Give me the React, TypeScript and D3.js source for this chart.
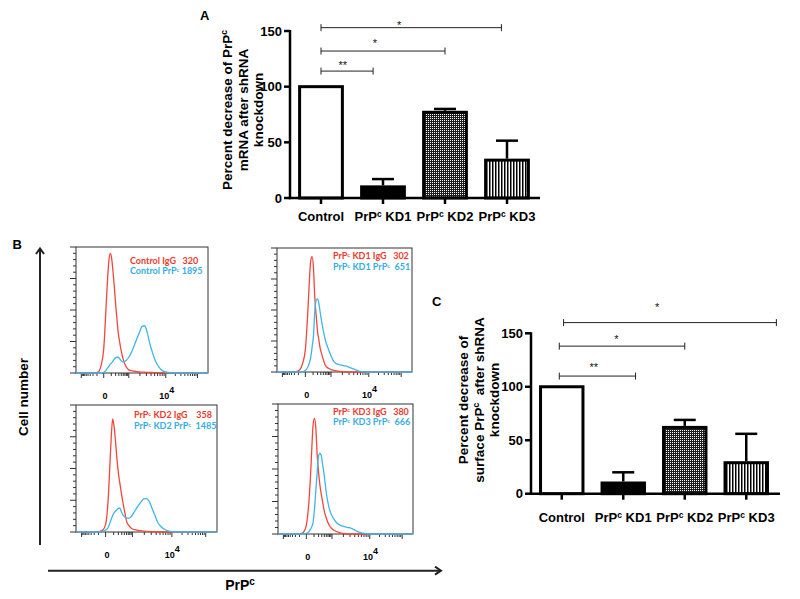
import React from "react";
import * as d3 from "d3";

const FONT = "'Liberation Sans', Arial, Helvetica, sans-serif";
const HFONT = "Lato, 'Open Sans', sans-serif";

// ---------- Bar chart data ----------
const barCategories = ["Control", "PrP^c KD1", "PrP^c KD2", "PrP^c KD3"];
const mrnaValues = [100, 10, 77, 34];
const mrnaErrors = [0, 7, 3, 17.5];
const surfaceValues = [100, 10, 62, 29];
const surfaceErrors = [0, 10, 7, 27];
const barYTicks = [0, 50, 100, 150];
const barFills = ["white", "black", "url(#dots)", "url(#vstripes)"];

// significance brackets: start / end in category units (0 = Control centre), level, label
const mrnaSigStart = [0, 0, 0];
const mrnaSigEnd = [0.84, 2.0, 2.91];
const mrnaSigLevel = [114, 132, 153];
const mrnaSigLabel = ["**", "*", "*"];
const mrnaSigLabelPos = [0.35, 0.87, 1.26];
const mrnaSigLabelLevel = [121, 141, 157.5];

const surfSigStart = [-0.04, -0.04, 0.03];
const surfSigEnd = [1.2, 2.0, 3.49];
const surfSigLevel = [110, 138, 160];
const surfSigLabel = ["**", "*", "*"];
const surfSigLabelPos = [0.52, 0.89, 1.55];
const surfSigLabelLevel = [120, 146.7, 176];

// ---------- Flow histogram data (channel 0-100, % of max) ----------
const histChannels = [0, 14, 17, 19, 21, 23, 24, 25, 26, 27, 28, 29, 30, 31, 32, 33, 34, 36, 38, 40, 42, 44, 46, 48, 50, 52, 54, 56, 58, 60, 63, 66, 70, 80, 100];
const controlIgG = [0, 0, 1, 6, 19, 57, 76, 90, 95, 91, 81, 69, 55, 43, 32, 25, 19, 10, 5, 2.5, 1.8, 1.4, 1.1, 0.8, 0.7, 0.6, 0.5, 0.4, 0.4, 0.3, 0.3, 0.2, 0, 0, 0];
const controlPrP = [0, 0, 0, 0, 0.5, 2.5, 4, 5.5, 7, 8, 9.5, 11, 12, 12.5, 12.5, 11.5, 10, 8.8, 10, 12.5, 16.5, 21.5, 27, 32, 37, 37.5, 32, 23, 16, 10, 4.5, 1.5, 0.4, 0, 0];
const kd1IgG = [0, 0.3, 2, 7, 18, 52, 74, 90, 93, 84, 60, 46, 33, 26, 19, 15, 11, 5, 3, 2, 1.4, 0.9, 0.5, 0.3, 0.2, 0, 0, 0, 0, 0, 0, 0, 0, 0, 0];
const kd1PrP = [0, 0, 0, 0.3, 1.2, 4.5, 7.5, 12, 20, 29, 49, 58, 59, 55.6, 48, 41, 35, 25, 18.5, 13, 8.5, 6.8, 6, 5.5, 5, 4.5, 3.5, 2.7, 1.8, 1, 0.3, 0, 0, 0, 0];
const kd2IgG = [0, 0, 0.5, 1.5, 6, 29, 52, 75, 89, 83, 72, 58, 47, 39, 32, 25, 19, 8, 4.5, 2.4, 1.8, 1.3, 1, 0.7, 0.5, 0.3, 0.2, 0, 0, 0, 0, 0, 0, 0, 0];
const kd2PrP = [0, 0, 0, 0.5, 1.5, 4, 7, 10, 13, 15, 16.5, 17.5, 18.5, 19, 16.5, 14, 12.5, 11, 11, 13.5, 17, 20.5, 23.5, 26, 26.3, 24, 18.5, 13, 7.5, 4.5, 2, 0.7, 0.2, 0, 0];
const kd3IgG = [0, 0, 0.3, 1.5, 7, 26, 43, 65, 84, 89, 82, 61, 48, 38, 31, 25, 19, 11.5, 6.5, 4, 2.5, 1.6, 0.9, 0.5, 0.2, 0, 0, 0, 0, 0, 0, 0, 0, 0, 0];
const kd3PrP = [0, 0, 0, 0, 0.5, 2, 3.5, 5.5, 9, 19, 33, 47, 60, 62, 60.5, 54, 47, 30, 19.5, 14, 10.5, 8, 6.8, 6, 5.4, 5, 4.5, 3.5, 2.4, 1.5, 0.6, 0.2, 0, 0, 0];
const histIgGLabels = ["Control IgG   320", "PrP^c KD1 IgG   302", "PrP^c KD2 IgG    358", "PrP^c KD3 IgG   380"];
const histPrPLabels = ["Control PrP^c 1895", "PrP^c KD1 PrP^c  651", "PrP^c KD2 PrP^c  1485", "PrP^c KD3 PrP^c  666"];
const histYTicks = d3.range(0, 101, 5);
const histMajorX = [4, 21, 40, 68, 92];
const histZeroLabelCh = 22;
const histDecadeLabelCh = 63;

const RED = "#f0392c";
const BLUE = "#35aee6";
const RED_LINE = "#f2473b";
const BLUE_LINE = "#3db6ea";

function sup(s: string, shift: number, supFs: number) {
  const parts = s.split("^c");
  const out: any[] = [];
  parts.forEach((p, i) => {
    if (i === 0) {
      if (p.length) out.push(<tspan key={"p" + i}>{p}</tspan>);
    } else {
      out.push(
        <tspan key={"s" + i} dy={-shift} fontSize={supFs}>c</tspan>
      );
      if (p.length) out.push(<tspan key={"p" + i} dy={shift}>{p}</tspan>);
    }
  });
  return out;
}

type BarProps = {
  values: number[];
  errors: number[];
  range: [number, number];
  yRange: [number, number];
  xEnd: number;
  sigStart: number[];
  sigEnd: number[];
  sigLevel: number[];
  sigLabel: string[];
  sigLabelPos: number[];
  sigLabelLevel: number[];
  yLabelLines: string[];
  yLabelX: number[];
  yLabelY: number;
  xLabelY: number;
};

function BarPanel(p: BarProps) {
  const x = d3
    .scaleBand<number>()
    .domain(d3.range(barCategories.length))
    .range(p.range)
    .paddingInner(0.31)
    .paddingOuter(0.155);
  const y = d3.scaleLinear().domain([0, 150]).range(p.yRange);
  const bw = x.bandwidth();
  const step = x.step();
  const c0 = (x(0) as number) + bw / 2;
  const axisX = p.range[0];
  const y0 = y(0);
  return (
    <g fontFamily={FONT} fontWeight="bold">
      {p.values.map((v, i) => (
        <rect
          key={"b" + i}
          x={x(i)}
          y={y(v)}
          width={bw}
          height={y0 - y(v)}
          fill={barFills[i]}
          stroke="black"
          strokeWidth={3}
        />
      ))}
      {p.values.map((v, i) =>
        p.errors[i] > 0 ? (
          <g key={"e" + i} stroke="black" strokeWidth={2.5}>
            <line x1={(x(i) as number) + bw / 2} x2={(x(i) as number) + bw / 2} y1={y(v) - 1.5} y2={y(v + p.errors[i])} />
            <line x1={(x(i) as number) + bw / 2 - 11} x2={(x(i) as number) + bw / 2 + 11} y1={y(v + p.errors[i])} y2={y(v + p.errors[i])} />
          </g>
        ) : null
      )}
      <line x1={axisX} x2={axisX} y1={y(150) - 1} y2={y0 + 1.2} stroke="black" strokeWidth={2.5} />
      <line x1={axisX - 1.2} x2={p.xEnd} y1={y0} y2={y0} stroke="black" strokeWidth={2.5} />
      {barYTicks.map((t) => (
        <g key={"yt" + t}>
          <line x1={axisX - 6} x2={axisX} y1={y(t)} y2={y(t)} stroke="black" strokeWidth={2.5} />
          <text x={axisX - 8} y={y(t)} dy="0.36em" textAnchor="end" fontSize={13}>
            {t}
          </text>
        </g>
      ))}
      {barCategories.map((c, i) => {
        const cx = (x(i) as number) + bw / 2;
        return (
          <g key={"xt" + i}>
            <line x1={cx} x2={cx} y1={y0} y2={y0 + 6} stroke="black" strokeWidth={2.5} />
            <text x={cx} y={p.xLabelY} textAnchor="middle" fontSize={13} style={{ whiteSpace: "pre" }}>
              {sup(c, 4.5, 8.5)}
            </text>
          </g>
        );
      })}
      {p.sigLevel.map((lv, i) => {
        const xa = c0 + p.sigStart[i] * step;
        const xb = c0 + p.sigEnd[i] * step;
        const yy = y(lv);
        return (
          <g key={"s" + i}>
            <g stroke="#222" strokeWidth={1}>
              <line x1={xa} x2={xb} y1={yy} y2={yy} />
              <line x1={xa} x2={xa} y1={yy - 3.5} y2={yy + 3.5} />
              <line x1={xb} x2={xb} y1={yy - 3.5} y2={yy + 3.5} />
            </g>
            <text
              x={c0 + p.sigLabelPos[i] * step}
              y={y(p.sigLabelLevel[i]) + 6}
              textAnchor="middle"
              fontSize={11}
              fontWeight="normal"
              fill="#111"
            >
              {p.sigLabel[i]}
            </text>
          </g>
        );
      })}
      {p.yLabelLines.map((l, i) => (
        <text
          key={"yl" + i}
          transform={`translate(${p.yLabelX[i]},${p.yLabelY}) rotate(-90)`}
          textAnchor="middle"
          dy="0.36em"
          fontSize={13.5}
          style={{ whiteSpace: "pre" }}
        >
          {sup(l, 4.5, 8.5)}
        </text>
      ))}
    </g>
  );
}

type Box = { x: number; y: number; w: number; h: number; rx: number; ry: number; by: number };

function Histogram({ box, red, blue, redLabel, blueLabel }: { box: Box; red: number[]; blue: number[]; redLabel: string; blueLabel: string }) {
  const x = d3.scaleLinear().domain([0, 100]).range([box.x, box.x + box.w]);
  const y = d3.scaleLinear().domain([0, 100]).range([box.y + box.h, box.y]);
  const line = d3
    .line<number>()
    .x((_, i) => x(histChannels[i]))
    .y((d) => y(d))
    .curve(d3.curveMonotoneX);
  const minors: number[] = [];
  for (let j = 0; j < histMajorX.length - 1; j++) {
    const a = histMajorX[j];
    const b = histMajorX[j + 1];
    for (let k = 2; k <= 9; k++) {
      if (j === 0) minors.push(b - (b - a) * Math.log10(k));
      else minors.push(a + (b - a) * Math.log10(k));
    }
  }
  const bottom = box.y + box.h;
  return (
    <g>
      <rect x={box.x} y={box.y} width={box.w} height={box.h} fill="white" stroke="#333" strokeWidth={1} />
      {histYTicks.map((t) => (
        <line
          key={"y" + t}
          x1={box.x - (t % 25 === 0 ? 6 : 3)}
          x2={box.x}
          y1={y(t)}
          y2={y(t)}
          stroke="#333"
          strokeWidth={1}
        />
      ))}
      {histMajorX.map((t) => (
        <line key={"M" + t} x1={x(t)} x2={x(t)} y1={bottom} y2={bottom + 5} stroke="#333" strokeWidth={1} />
      ))}
      {minors.map((t, i) => (
        <line key={"m" + i} x1={x(t)} x2={x(t)} y1={bottom} y2={bottom + 3} stroke="#333" strokeWidth={1} />
      ))}
      <path d={line(red) as string} fill="none" stroke={RED_LINE} strokeWidth={1.3} />
      <path d={line(blue) as string} fill="none" stroke={BLUE_LINE} strokeWidth={1.3} />
      <text x={box.rx} y={box.ry} dy="0.35em" fontFamily={HFONT} fontWeight="bold" fontSize={9} fill={RED} style={{ whiteSpace: "pre" }}>
        {sup(redLabel, 2.5, 6)}
      </text>
      <text x={box.rx} y={box.by} dy="0.35em" fontFamily={HFONT} fontWeight="bold" fontSize={9} fill={BLUE} style={{ whiteSpace: "pre" }}>
        {sup(blueLabel, 2.5, 6)}
      </text>
      <text x={x(histZeroLabelCh)} y={bottom + 25.5} textAnchor="middle" fontFamily={FONT} fontWeight="bold" fontSize={9}>
        0
      </text>
      <text x={x(histDecadeLabelCh)} y={bottom + 25.5} fontFamily={FONT} fontWeight="bold" fontSize={9}>
        10
        <tspan dy={-6} fontSize={9}>4</tspan>
      </text>
    </g>
  );
}

const histBoxes: Box[] = [
  { x: 76, y: 247, w: 132, h: 126, rx: 130, ry: 260.7, by: 271.3 },
  { x: 277, y: 248, w: 135, h: 124, rx: 333, ry: 256.3, by: 267.3 },
  { x: 76, y: 405, w: 141, h: 127, rx: 134, ry: 415, by: 426 },
  { x: 278, y: 404, w: 135, h: 130, rx: 333, ry: 411.7, by: 422.3 },
];
const histRed = [controlIgG, kd1IgG, kd2IgG, kd3IgG];
const histBlue = [controlPrP, kd1PrP, kd2PrP, kd3PrP];

export default function App() {
  return (
    <svg
      width={800}
      height={599}
      viewBox="0 0 800 599"
      style={{ position: "absolute", left: 0, top: 0, background: "white" }}
    >
      <defs>
        <pattern id="dots" width={2} height={2} patternUnits="userSpaceOnUse">
          <rect width={2} height={2} fill="#1e1e1e" />
          <rect width={1} height={1} fill="#ffffff" />
        </pattern>
        <pattern id="vstripes" width={3} height={3} patternUnits="userSpaceOnUse">
          <rect width={3} height={3} fill="white" />
          <rect width={1.5} height={3} fill="black" />
        </pattern>
      </defs>
      <rect width={800} height={599} fill="white" />

      <text x={200} y={20} fontFamily={FONT} fontWeight="bold" fontSize={13}>A</text>
      <BarPanel
        values={mrnaValues}
        errors={mrnaErrors}
        range={[290, 538]}
        yRange={[198, 31]}
        xEnd={540}
        sigStart={mrnaSigStart}
        sigEnd={mrnaSigEnd}
        sigLevel={mrnaSigLevel}
        sigLabel={mrnaSigLabel}
        sigLabelPos={mrnaSigLabelPos}
        sigLabelLevel={mrnaSigLabelLevel}
        yLabelLines={["Percent decrease of PrP^c", "mRNA after shRNA", "knockdown"]}
        yLabelX={[227, 243, 258]}
        yLabelY={110}
        xLabelY={221}
      />

      <text x={432} y={306} fontFamily={FONT} fontWeight="bold" fontSize={13}>C</text>
      <BarPanel
        values={surfaceValues}
        errors={surfaceErrors}
        range={[531, 777]}
        yRange={[493.7, 333.3]}
        xEnd={780}
        sigStart={surfSigStart}
        sigEnd={surfSigEnd}
        sigLevel={surfSigLevel}
        sigLabel={surfSigLabel}
        sigLabelPos={surfSigLabelPos}
        sigLabelLevel={surfSigLabelLevel}
        yLabelLines={["Percent decrease of", "surface PrP^c  after shRNA", "knockdown"]}
        yLabelX={[463, 479, 494]}
        yLabelY={400}
        xLabelY={522}
      />

      <text x={12.5} y={248.5} fontFamily={FONT} fontWeight="bold" fontSize={13}>B</text>
      {histBoxes.map((b, i) => (
        <Histogram key={i} box={b} red={histRed[i]} blue={histBlue[i]} redLabel={histIgGLabels[i]} blueLabel={histPrPLabels[i]} />
      ))}
      <g stroke="#222" strokeWidth={2} fill="none">
        <line x1={40} x2={40} y1={545} y2={249} />
        <polyline points="36,254 40,248.5 44,254" />
        <line x1={48} x2={440} y1={570.7} y2={570.7} />
        <polyline points="435,566.7 441,570.7 435,574.7" />
      </g>
      <text
        transform="translate(23,397) rotate(-90)"
        textAnchor="middle"
        dy="0.36em"
        fontFamily={FONT}
        fontWeight="bold"
        fontSize={13.5}
      >
        Cell number
      </text>
      <text x={240} y={590} textAnchor="middle" fontFamily={FONT} fontWeight="bold" fontSize={14}>
        PrP<tspan dy={-5} fontSize={10}>c</tspan>
      </text>
    </svg>
  );
}
